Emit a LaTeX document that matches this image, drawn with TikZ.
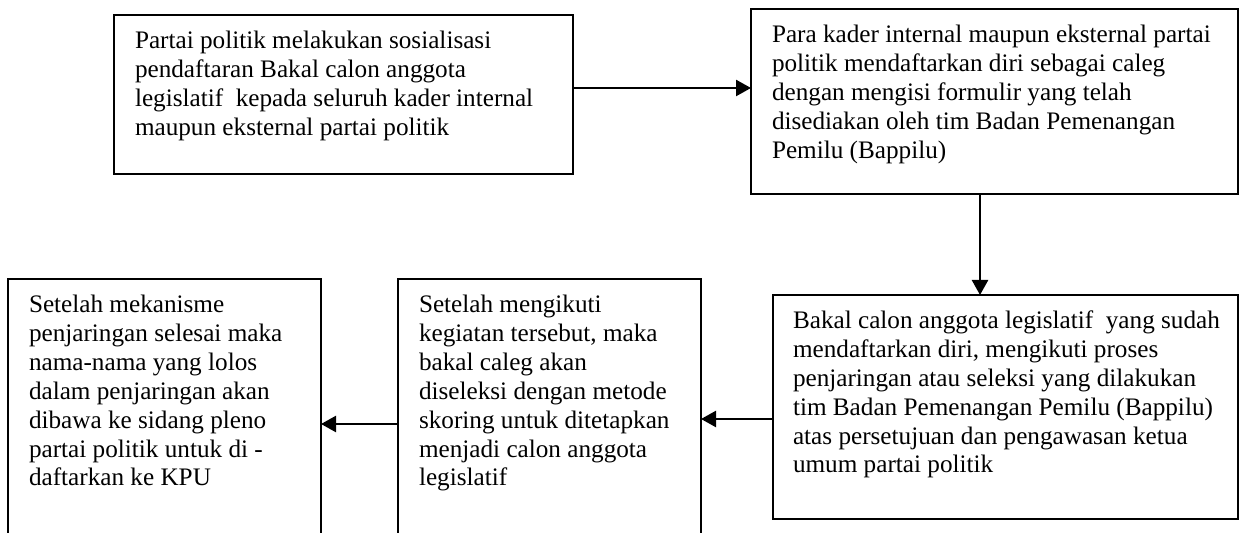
\documentclass[tikz,border=0pt]{standalone}
\usepackage{fontspec}
\setmainfont{Liberation Serif}
\usetikzlibrary{arrows.meta}
\newcommand{\boxbody}[3]{\parbox[c][#2][t]{#1}{\rule{0pt}{17pt}\begin{tabular}[t]{@{}l@{}}#3\end{tabular}}}
\begin{document}
\begin{tikzpicture}[x=0.5pt,y=-0.5pt,
  box/.style={draw, line width=1pt, inner xsep=10.5pt, inner ysep=0pt, outer sep=0pt, anchor=north west,
              font=\fontsize{12.6pt}{14.4pt}\selectfont},
  arr/.style={line width=1.2pt, -{Triangle[length=7.5pt,width=8pt]}}]
\useasboundingbox (0,0) rectangle (1240,533);
\clip (0,0) rectangle (1240,533);

\node[box] (b1) at (114,15) {\boxbody{208.5pt}{79.5pt}{Partai politik melakukan sosialisasi\\ pendaftaran Bakal calon anggota\\ legislatif\ \ kepada seluruh kader internal\\ maupun eksternal partai politik}};

\node[box] (b2) at (751,9) {\boxbody{222.5pt}{92.5pt}{Para kader internal maupun eksternal partai\\ politik mendaftarkan diri sebagai caleg\\ dengan mengisi formulir yang telah\\ disediakan oleh tim Badan Pemenangan\\ Pemilu (Bappilu)}};

\node[box, inner xsep=10pt] (b3) at (773,295) {\boxbody{212.5pt}{112pt}{Bakal calon anggota legislatif\ \ yang sudah\\ mendaftarkan diri, mengikuti proses\\ penjaringan atau seleksi yang dilakukan\\ tim Badan Pemenangan Pemilu (Bappilu)\\ atas persetujuan dan pengawasan ketua\\ umum partai politik}};

\node[box] (b4) at (398,279) {\boxbody{130.5pt}{133pt}{Setelah mengikuti\\ kegiatan tersebut, maka\\ bakal caleg akan\\ diseleksi dengan metode\\ skoring untuk ditetapkan\\ menjadi calon anggota\\ legislatif}};

\node[box] (b5) at (8,279) {\boxbody{135.5pt}{133pt}{Setelah mekanisme\\ penjaringan selesai maka\\ nama-nama yang lolos\\ dalam penjaringan akan\\ dibawa ke sidang pleno\\ partai politik untuk di -\\ daftarkan ke KPU}};

\coordinate (a1) at ([yshift=3.25pt]b1.east);
\coordinate (a2) at ([xshift=-7.25pt]b2.south);
\coordinate (a3) at ([yshift=-6pt]b3.west);
\coordinate (a4) at ([yshift=-6pt]b4.west);
\draw[arr] (a1) -- (a1 -| b2.west);
\draw[arr] (a2) -- (a2 |- b3.north);
\draw[arr] (a3) -- (a3 -| b4.east);
\draw[arr] (a4) -- (a4 -| b5.east);
\end{tikzpicture}
\end{document}
